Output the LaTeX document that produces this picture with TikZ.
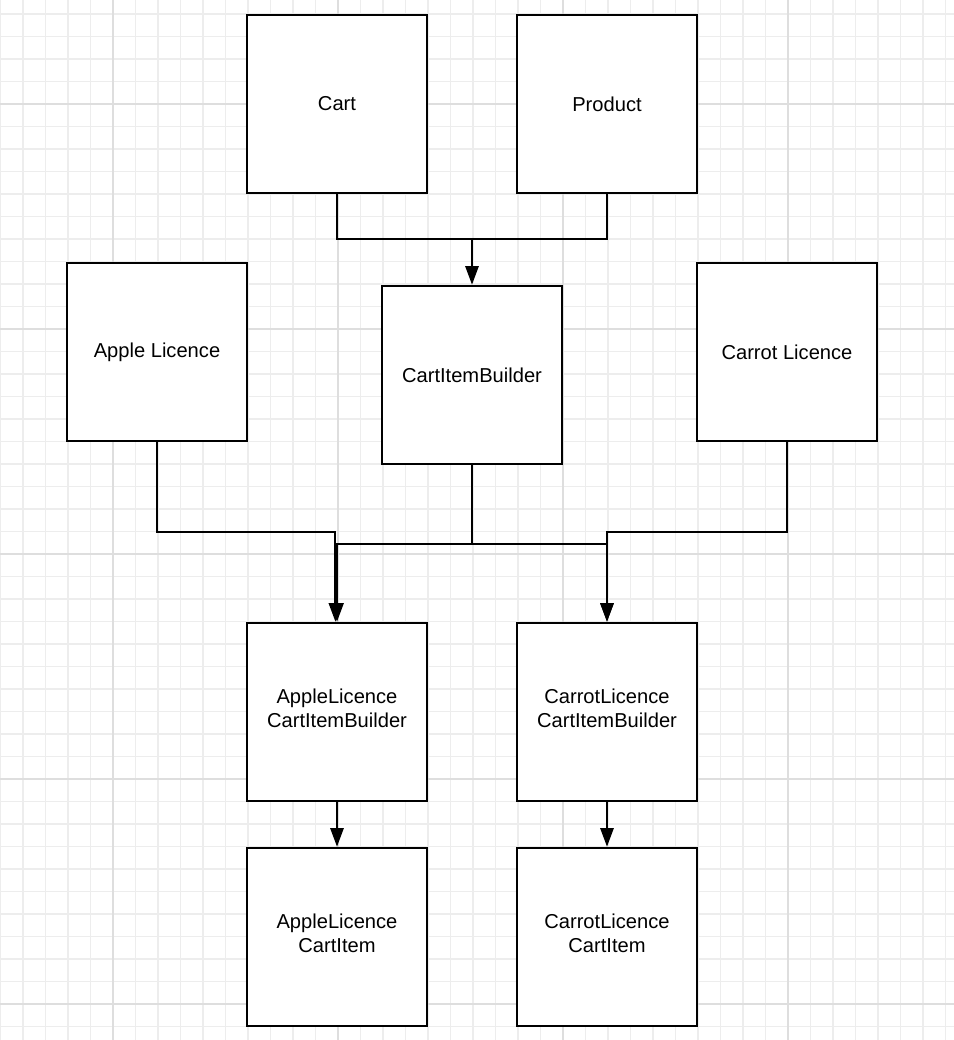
\documentclass[tikz,border=0pt]{standalone}
\usepackage{fontspec}
\setmainfont{Liberation Sans}
\usetikzlibrary{
    arrows.meta,
    backgrounds,
    positioning,
}

\begin{document}
\begin{tikzpicture}[x=0.75pt,y=-0.75pt,>={Triangle[length=14pt,width=10pt]}]

                \tikzstyle{commonNode}=[font=\fontsize{15.1}{18}\selectfont, align=center, line width=1.5pt, draw=black]
                \tikzstyle{classBox}=[commonNode, rectangle, fill=white, minimum width=135pt, minimum height=134pt, inner sep=0pt]
                \tikzstyle{wideBox}=[classBox, text depth=6pt]
                \tikzstyle{link}=[line width=1.5pt, draw=black]
                \tikzstyle{minorLine}=[line width=0.9pt, draw=black!7]
                \tikzstyle{majorLine}=[line width=1pt, draw=black!13]

                \useasboundingbox (0,0) rectangle (954,1040);

                % Background grid
                \fill[white] (0,0) rectangle (954,1040);
                \foreach \i in {0,...,42} {
                    \draw[minorLine] (0.5+22.5*\i,0) -- (0.5+22.5*\i,1040);
                }
                \foreach \i in {-1,...,45} {
                    \draw[minorLine] (0,14+22.5*\i) -- (954,14+22.5*\i);
                }
                \foreach \x in {113,338,563,788} {
                    \draw[majorLine] (\x,0) -- (\x,1040);
                }
                \foreach \y in {104,329,554,779,1004} {
                    \draw[majorLine] (0,\y) -- (954,\y);
                }

                \begin{scope}

                    % Classes
                    \node at (337,104) [classBox] (C) {Cart};
                    \node at (607,104) [classBox] (P) {Product};
                    \node at (157,352) [classBox] (AL) {Apple Licence};
                    \node at (472,375) [classBox] (CIB) {CartItemBuilder};
                    \node at (787,352) [classBox] (CL) {Carrot Licence};
                    \node at (337,712) [wideBox] (ALCIB) {AppleLicence \\ CartItemBuilder};
                    \node at (607,712) [wideBox] (CLCIB) {CarrotLicence \\ CartItemBuilder};
                    \node at (337,937) [wideBox] (ALCI) {AppleLicence \\ CartItem};
                    \node at (607,937) [wideBox] (CLCI) {CarrotLicence \\ CartItem};

                    % Links
                    \coordinate (join) at (472,239);
                    \draw[link] (C.south) |- (join) -| (P.south);
                    \draw[link,->] (join) -- (CIB.north);

                    \draw[link,->] (AL.south) -- ++(0,90) -| ([xshift=-1.2pt]ALCIB.north);
                    \draw[link,->] (CL.south) -- ++(0,90) -| (CLCIB.north);
                    \draw[link] (CIB.south) -- ++(0,79) coordinate (fork);
                    \draw[link,->] (fork) -| (ALCIB.north);
                    \draw[link,->] (fork) -| (CLCIB.north);

                    \draw[link,->] (ALCIB) -- (ALCI);
                    \draw[link,->] (CLCIB) -- (CLCI);
                \end{scope}
            \end{tikzpicture}
\end{document}
